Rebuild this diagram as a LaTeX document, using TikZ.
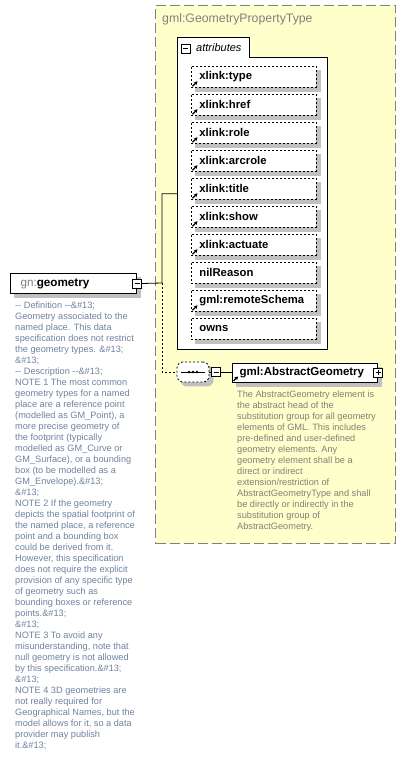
\documentclass[tikz,border=0pt]{standalone}
\usepackage{fontspec}
\setmainfont{Liberation Sans}
\usetikzlibrary{arrows.meta,calc}
\definecolor{yel}{RGB}{255,255,204}
\definecolor{bordergray}{RGB}{128,128,128}
\definecolor{shadowgray}{RGB}{192,192,192}
\definecolor{desc}{RGB}{110,130,160}
\definecolor{desctwo}{RGB}{128,128,118}
\pgfdeclarelayer{bg}
\pgfdeclarelayer{shad}
\pgfsetlayers{bg,shad,main}
\begin{document}
\begin{tikzpicture}[x=1pt,y=-1pt,
  conn/.style={line width=0.8pt},
  pm/.style={draw, fill=white, minimum size=9pt, inner sep=0pt, line width=0.6pt},
  minusbox/.style={pm, path picture={\draw[line width=0.6pt] ([xshift=2pt]path picture bounding box.west) -- ([xshift=-2pt]path picture bounding box.east);}},
  plusbox/.style={pm, path picture={\draw[line width=0.6pt] ([xshift=2pt]path picture bounding box.west) -- ([xshift=-2pt]path picture bounding box.east) ([yshift=-2pt]path picture bounding box.north) -- ([yshift=2pt]path picture bounding box.south);}},
  attr/.style={draw, line width=0.8pt, dash pattern=on 2pt off 2pt, fill=white, anchor=north west,
    minimum height=21pt, text width=109pt, inner xsep=8pt, inner ysep=0pt, align=left,
    font=\bfseries\fontsize{11.3}{13}\selectfont},
  linkarrow/.style={line width=1.2pt, -{Stealth[length=3.5pt,width=4pt]}},
  descstyle/.style={anchor=north west, inner sep=0pt, align=left, font=\fontsize{9.2}{11}\selectfont},
  elem/.style={draw, line width=1pt, fill=white, inner ysep=0pt, align=left}
]
\useasboundingbox (0,0) rectangle (406,767);

% type box
\begin{pgfonlayer}{bg}
\node[draw=bordergray, line width=1pt, dash pattern=on 10pt off 4pt, fill=yel, anchor=north west,
  minimum width=240pt, minimum height=538pt, inner sep=0pt] (ptype) at (155,5) {};
\node[anchor=north west, minimum width=150pt, minimum height=311pt, inner sep=0pt] (attrs) at (177,38) {};
\draw[line width=1pt, fill=white] (attrs.south west) -- (attrs.north west) -- ([xshift=72pt]attrs.north west)
  -- ([shift={(72pt,-20pt)}]attrs.north west) -- ([yshift=-20pt]attrs.north east) -- (attrs.south east) -- cycle;
\end{pgfonlayer}

\node[anchor=west, text=bordergray, font=\fontsize{12.3}{14}\selectfont, inner sep=0pt] (title) at (162,19) {gml:GeometryPropertyType};

\node[minusbox] (attm) at (185.5,48.5) {};
\node[anchor=west, font=\itshape\fontsize{11}{13}\selectfont, inner sep=0pt] (attlabel) at (196,48) {attributes};

\node[attr] (a1) at (191,66) {xlink:type};
\node[attr] (a2) at (191,94) {xlink:href};
\node[attr] (a3) at (191,122) {xlink:role};
\node[attr] (a4) at (191,150) {xlink:arcrole};
\node[attr] (a5) at (191,178) {xlink:title};
\node[attr] (a6) at (191,206) {xlink:show};
\node[attr] (a7) at (191,234) {xlink:actuate};
\node[attr] (a8) at (191,262) {nilReason};
\node[attr] (a9) at (191,290) {gml:remoteSchema};
\node[attr] (a10) at (191,318) {owns};

\foreach \i in {1,2,3,4,5,6,7,9}
  \draw[linkarrow] ([shift={(1.5pt,1.5pt)}]a\i.south west) -- ++(5pt,5pt);

% gn:geometry
\node[elem, anchor=north west, minimum width=126pt, minimum height=20pt, text width=106pt, inner xsep=10pt,
  font=\fontsize{11.7}{13}\selectfont] (gn) at (10,273) {\textcolor{bordergray}{gn:}\textbf{geometry}};
\node[minusbox] (gnm) at (gn.east) {};

% sequence
\node[draw, dash pattern=on 2pt off 2pt, line width=0.8pt, fill=white, rounded corners=6pt,
  minimum width=32pt, minimum height=20pt, inner sep=0pt] (seq) at (193,372) {};
\draw[line width=0.8pt] ([xshift=4pt]seq.west) -- ([xshift=-4pt]seq.east);
\foreach \dx in {-4,0,4}
  \fill ([xshift=\dx pt]seq.center) circle (1.4pt);
\node[minusbox] (seqm) at (216,372) {};

% AbstractGeometry
\node[elem, anchor=west, minimum width=145pt, minimum height=19pt, text width=131pt, inner xsep=7pt,
  font=\bfseries\fontsize{11.5}{13}\selectfont] (ag) at (232,372.5) {gml:AbstractGeometry};
\node[plusbox] (agp) at (ag.east) {};
\draw[linkarrow] ([shift={(1.5pt,1.5pt)}]ag.south west) -- ++(4.5pt,4.5pt);

% shadows
\begin{pgfonlayer}{shad}
\foreach \n in {a1,a2,a3,a4,a5,a6,a7,a8,a9,a10,gn,ag}
  \fill[shadowgray] ([shift={(4pt,-4pt)}]\n.south west) rectangle ([shift={(4pt,-4pt)}]\n.north east);
\fill[shadowgray, rounded corners=6pt] ([shift={(4pt,-4pt)}]seq.south west) rectangle ([shift={(4pt,-4pt)}]seq.north east);
\end{pgfonlayer}

% connectors
\coordinate (j) at (162,283);
\draw[conn] (gnm.east) -- (j) |- (attrs.west);
\draw[conn, dash pattern=on 2pt off 2pt] (j) |- (seq.west);
\draw[conn] (seq.east) -- (seqm.west);
\draw[conn] (seqm.east) -- (ag.west |- seqm.east);

% descriptions
\node[descstyle, text=desc] (gndesc) at (15,302) {%
-{}- Definition -{}-\&\#13;\\
Geometry associated to the\\
named place. This data\\
specification does not restrict\\
the geometry types. \&\#13;\\
\&\#13;\\
-{}- Description -{}-\&\#13;\\
NOTE 1 The most common\\
geometry types for a named\\
place are a reference point\\
(modelled as GM\_Point), a\\
more precise geometry of\\
the footprint (typically\\
modelled as GM\_Curve or\\
GM\_Surface), or a bounding\\
box (to be modelled as a\\
GM\_Envelope).\&\#13;\\
\&\#13;\\
NOTE 2 If the geometry\\
depicts the spatial footprint of\\
the named place, a reference\\
point and a bounding box\\
could be derived from it.\\
However, this specification\\
does not require the explicit\\
provision of any specific type\\
of geometry such as\\
bounding boxes or reference\\
points.\&\#13;\\
\&\#13;\\
NOTE 3 To avoid any\\
misunderstanding, note that\\
null geometry is not allowed\\
by this specification.\&\#13;\\
\&\#13;\\
NOTE 4 3D geometries are\\
not really required for\\
Geographical Names, but the\\
model allows for it, so a data\\
provider may publish\\
it.\&\#13;};

\node[descstyle, text=desctwo] (agdesc) at (237,391) {%
The AbstractGeometry element is\\
the abstract head of the\\
substitution group for all geometry\\
elements of GML. This includes\\
pre-defined and user-defined\\
geometry elements. Any\\
geometry element shall be a\\
direct or indirect\\
extension/restriction of\\
AbstractGeometryType and shall\\
be directly or indirectly in the\\
substitution group of\\
AbstractGeometry.};
\end{tikzpicture}
\end{document}
